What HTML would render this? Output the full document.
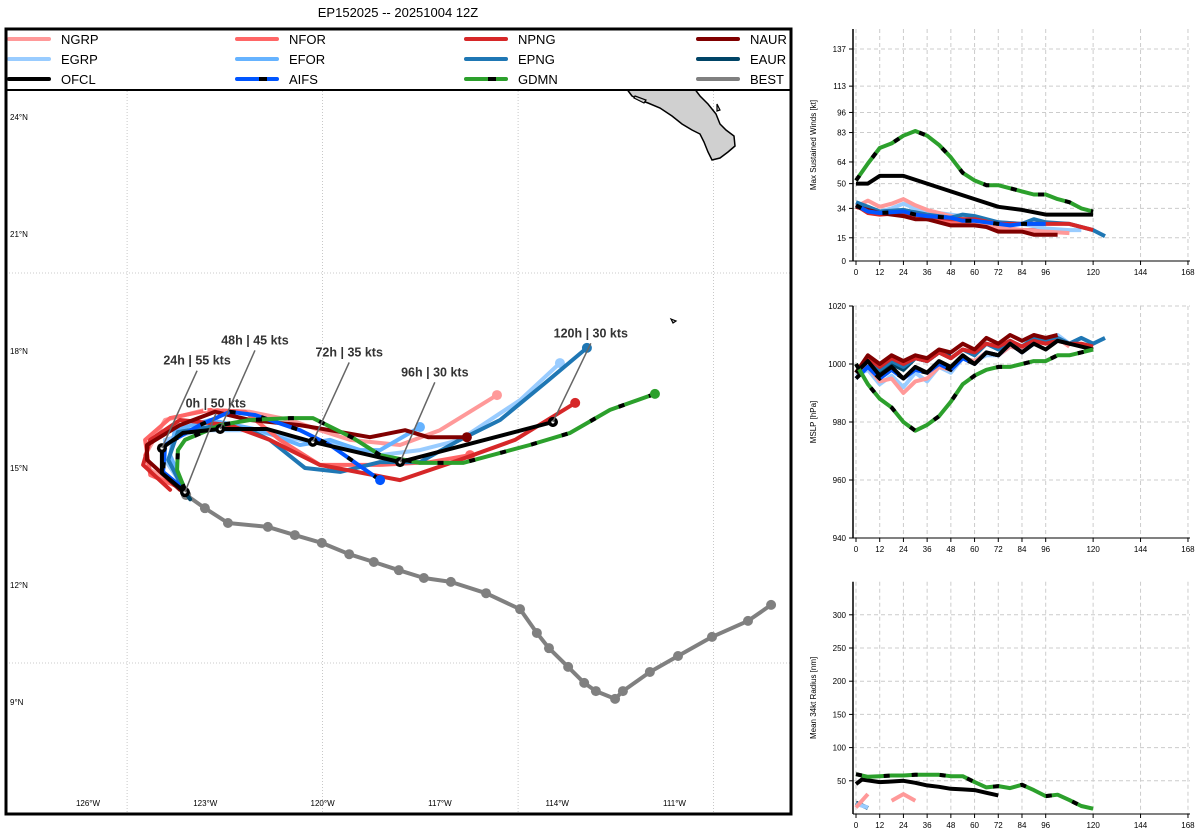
<!DOCTYPE html>
<html><head><meta charset="utf-8">
<style>
html,body{margin:0;padding:0;background:#fff;}
body{width:1200px;height:840px;overflow:hidden;font-family:"Liberation Sans","DejaVu Sans",sans-serif;}
svg{position:absolute;left:0;top:0;}
</style></head>
<body>
<svg id="chart" width="1200" height="840" viewBox="0 0 1200 840">
<text x="398" y="17" font-size="13" text-anchor="middle" fill="#000">EP152025 -- 20251004 12Z</text>
<defs><clipPath id="mapclip"><rect x="7" y="30" width="783" height="783"/></clipPath></defs>
<g id="map" clip-path="url(#mapclip)"></g>
<g id="maplabels"></g>
<g id="legend"></g>
<rect x="6" y="29" width="785" height="785" fill="none" stroke="#000" stroke-width="3"/>
<g id="p1"></g>
<g id="p2"></g>
<g id="p3"></g>
</svg>
<script>
// ---------- data ----------
const modelNames = ["NGRP","NFOR","NPNG","NAUR","EGRP","EFOR","EPNG","EAUR","OFCL","AIFS","GDMN","BEST"];
const modelColors = {NGRP:"#ff9999",NFOR:"#ff6666",NPNG:"#d62728",NAUR:"#800000",EGRP:"#99ccff",EFOR:"#66b3ff",EPNG:"#1f77b4",EAUR:"#004466",OFCL:"#000000",AIFS:"#0055ff",GDMN:"#2ca02c",BEST:"#808080"};
const dashedModels = ["AIFS","GDMN"];
// tracks: [lonW, latN]
const trackBEST = [[108.53,11.49],[109.12,11.08],[110.04,10.67],[110.91,10.18],[111.63,9.77],[112.32,9.28],[112.52,9.08],[113.01,9.28],[113.31,9.49],[113.72,9.90],[114.21,10.38],[114.52,10.77],[114.95,11.38],[115.82,11.79],[116.72,12.08],[117.41,12.18],[118.05,12.38],[118.69,12.59],[119.32,12.79],[120.02,13.08],[120.71,13.28],[121.40,13.49],[122.42,13.59],[123.01,13.97],[123.49,14.31]];
const trackOFCL = [[123.52,14.38],[124.11,14.87],[124.11,15.51],[123.57,15.90],[122.62,16.0],[121.42,16.0],[120.25,15.67],[118.02,15.15],[114.11,16.18]];
const trackOFCLmarks = [[123.52,14.38],[124.11,15.51],[122.62,16.0],[120.25,15.67],[118.02,15.15],[114.11,16.18]];
const trackNGRP = [[123.52,14.44],[124.41,14.95],[124.54,15.33],[124.03,16.23],[123.01,16.49],[121.86,16.44],[120.83,16.23],[120.07,15.97],[119.30,15.72],[118.02,15.59],[117.0,15.97],[115.54,16.87]];
const trackNFOR = [[123.52,14.44],[124.41,14.82],[124.54,15.72],[123.90,16.28],[122.88,16.49],[121.98,16.44],[121.09,15.72],[120.07,15.08],[118.53,15.08],[117.25,15.15],[116.23,15.33]];
const trackNPNG = [[123.90,14.44],[124.59,15.08],[124.41,15.72],[123.65,16.23],[122.37,16.10],[121.35,15.72],[120.07,15.08],[118.02,14.69],[116.49,15.21],[115.08,15.72],[113.54,16.67]];
const trackNAUR = [[123.65,14.44],[124.49,15.21],[124.49,15.59],[123.65,16.10],[122.75,16.44],[121.86,16.23],[120.58,16.10],[119.81,15.97],[118.79,15.79],[117.89,15.97],[117.30,15.79],[116.31,15.79]];
const trackEGRP = [[123.52,14.44],[124.03,15.21],[124.03,15.72],[123.14,15.97],[121.86,15.97],[120.58,15.72],[119.55,15.59],[118.53,15.33],[117.51,15.46],[116.49,15.72],[114.95,16.74],[113.93,17.69]];
const trackEFOR = [[123.52,14.44],[123.90,15.33],[123.78,15.97],[122.88,16.23],[121.60,15.97],[120.58,15.59],[119.81,15.72],[119.04,15.46],[118.53,15.46],[117.51,16.05]];
const trackEPNG = [[123.52,14.38],[123.95,15.21],[123.70,15.92],[122.62,16.10],[121.86,15.97],[121.35,15.72],[120.45,15.0],[119.55,14.90],[118.53,15.15],[117.51,15.15],[116.49,15.72],[115.46,16.23],[114.31,17.18],[113.24,18.08]];
const trackEAUR = [[123.52,14.38],[123.39,14.20]];
const trackAIFS = [[123.52,14.44],[124.08,14.90],[124.03,15.59],[123.14,16.10],[122.37,16.44],[121.73,16.36],[120.58,15.97],[119.81,15.59],[118.53,14.69]];
const trackGDMN = [[123.52,14.44],[123.72,14.95],[123.70,15.46],[123.52,15.72],[122.62,16.10],[121.86,16.23],[120.83,16.28],[120.25,16.28],[119.22,15.77],[118.53,15.33],[117.51,15.13],[116.41,15.13],[114.70,15.59],[113.67,15.90],[112.65,16.49],[111.50,16.90]];
const fcstLabels = ["0h | 50 kts","24h | 55 kts","48h | 45 kts","72h | 35 kts","96h | 30 kts","120h | 30 kts"];
const fcstLabelPos = [[122.73,16.55],[123.21,17.65],[121.73,18.17],[119.32,17.86],[117.13,17.35],[113.14,18.35]];
const fcstLabelTarget = [[123.52,14.38],[124.11,15.51],[122.62,16.0],[120.25,15.67],[118.02,15.15],[114.11,16.18]];
const lonTicks = [126,123,120,117,114,111];
const latTicks = [24,21,18,15,12,9];
const lonGrid = [125,120,115,110];
const latGrid = [20,10];

const windHours = {
 GDMN:[0,6,12,18,24,30,36,42,48,54,60,66,72,78,84,90,96,102,108,114,120],
 OFCL:[0,6,12,18,24,36,48,60,72,84,96,108,120],
 NGRP:[0,6,12,18,24,30,36,48,60,72,84,96,108],
 EGRP:[0,6,12,18,24,30,36,48,60,72,84,96,108,114],
 EPNG:[0,6,12,24,36,48,54,60,72,84,90,96,108,120,126],
 AIFS:[0,6,12,24,30,36,48,54,60,72,78,84,96],
 NPNG:[0,6,12,24,36,48,54,60,72,84,96,108,120],
 NAUR:[0,6,12,24,30,36,48,60,66,72,84,90,96,102],
 NFOR:[0,12,24,36,48,60,72,84,96,102],
 EAUR:[0,6,12]
};
const windVals = {
 GDMN:[52,63,73,76,81,84,81,75,67,57,52,49,49,47,45,43,43,40,38,34,32],
 OFCL:[50,50,55,55,55,50,45,40,35,33,30,30,30],
 NGRP:[35,39,35,37,40,36,33,29,25,22,20,19,18],
 EGRP:[37,35,32,34,37,34,32,30,28,25,24,21,20,20],
 EPNG:[38,35,32,33,30,28,30,29,25,24,27,25,24,20,16],
 AIFS:[36,32,31,32,30,29,28,26,26,24,23,24,24],
 NPNG:[36,31,30,31,29,27,27,27,24,24,24,24,20],
 NAUR:[35,33,31,29,27,27,23,23,22,19,19,17,17,17],
 NFOR:[35,31,30,28,25,24,21,20,20,19],
 EAUR:[37,34,32]
};
const mslpHours = {
 GDMN:[0,6,12,18,24,30,36,42,48,54,60,66,72,78,84,90,96,102,108,114,120],
 OFCL:[0,6,12,18,24,30,36,42,48,54,60,66,72,78,84,90,96,102,108,114,120],
 AIFS:[0,6,12,18,24,30,36,42,48,54,60,66,72,78,84,90],
 NGRP:[0,6,12,18,24,30,36,42,48,54,60,66,72,78,84,90,96,102,108],
 EGRP:[0,6,12,18,24,30,36,42,48,54,60,66,72,78,84,90,96,102,108,114],
 EPNG:[0,6,12,18,24,30,36,42,48,54,60,66,72,78,84,90,96,102,108,114,120,126],
 NPNG:[0,6,12,18,24,30,36,42,48,54,60,66,72,78,84,90,96,102,108,114,120],
 NAUR:[0,6,12,18,24,30,36,42,48,54,60,66,72,78,84,90,96,102],
 EAUR:[0,6,12,18,24,30,36,42,48]
};
const mslpVals = {
 GDMN:[1000,993,988,985,980,977,979,982,987,993,996,998,999,999,1000,1001,1001,1003,1003,1004,1005],
 OFCL:[997,1001,996,999,995,999,997,1001,999,1003,1000,1004,1003,1007,1004,1007,1005,1008,1007,1006,1005],
 AIFS:[995,999,995,998,995,998,997,1000,998,1002,1000,1004,1003,1007,1004,1007],
 NGRP:[997,999,994,995,990,994,995,999,998,1002,1001,1004,1003,1006,1005,1008,1007,1009,1006],
 EGRP:[996,998,993,996,992,997,994,999,997,1002,1001,1003,1003,1006,1005,1008,1007,1010,1007,1009],
 EPNG:[997,1002,998,1001,999,1002,1001,1004,1002,1005,1003,1007,1005,1008,1006,1009,1008,1009,1007,1009,1007,1009],
 NPNG:[997,1002,999,1002,1000,1002,1001,1004,1002,1005,1004,1007,1006,1008,1006,1008,1007,1008,1007,1007,1006],
 NAUR:[997,1003,1000,1003,1001,1003,1002,1005,1004,1007,1005,1009,1007,1010,1008,1010,1009,1010],
 EAUR:[997,1001,997,1000,998,1002,1001,1004,1003]
};
const radHours = {
 GDMN:[0,6,12,18,24,30,36,42,48,54,60,66,72,78,84,90,96,102,108,114,120],
 OFCL:[0,3,12,18,24,30,36,42,48,54,60,66,72],
 EGRP:[0,6],
 EAUR:[0,6],
 NGRP:[0,6,null,18,24,30]
};
const radVals = {
 GDMN:[60,56,57,58,58,59,59,59,57,57,48,40,42,39,44,36,27,29,21,12,8],
 OFCL:[45,52,48,49,50,47,43,41,38,37,36,32,28],
 EGRP:[15,10],
 EAUR:[17,9],
 NGRP:[10,30,null,20,30,20]
};
const hourTicks = [0,12,24,36,48,60,72,84,96,120,144,168];
const windTicks = [0,15,34,50,64,83,96,113,137];
const mslpTicks = [940,960,980,1000,1020];
const radTicks = [50,100,150,200,250,300];

const tracks = {NGRP:trackNGRP,NFOR:trackNFOR,NPNG:trackNPNG,NAUR:trackNAUR,EGRP:trackEGRP,EFOR:trackEFOR,EPNG:trackEPNG,EAUR:trackEAUR,AIFS:trackAIFS,GDMN:trackGDMN};

// ---------- helpers ----------
const NS="http://www.w3.org/2000/svg";
function mk(tag, parent, attrs){const e=document.createElementNS(NS,tag);for(const k in attrs)e.setAttribute(k,attrs[k]);parent.appendChild(e);return e;}
const mx = lon => 88 + (126 - lon) * 39.1;
const my = lat => 117 + (24 - lat) * 39;

// ---------- map ----------
const map=document.getElementById('map');
const ml=document.getElementById('maplabels');
for(const g of lonGrid){const l=mk('line',map,{x1:mx(g),x2:mx(g),y1:28,y2:814,stroke:'#bbb','stroke-width':0.8,'stroke-dasharray':'1 2'});

}
for(const g of latGrid){const l=mk('line',map,{x1:6,x2:791,y1:my(g),y2:my(g),stroke:'#bbb','stroke-width':0.8,'stroke-dasharray':'1 2'});

}
const land=mk('path',map,{d:'M626,88 L632,96 L640,100 L648,103 L660,108 L672,116 L682,124 L692,130 L700,134 L704,142 L708,152 L712,160 L720,158 L728,152 L735,146 L734,136 L726,130 L720,124 L716,114 L708,104 L700,96 L694,88 Z',fill:'#d0d0d0',stroke:'#000','stroke-width':1.5});


const isl=mk('path',map,{d:'M635,96 L646,100 L644,103 L634,98 Z M717,104 L720,110 L717,111 Z M671,319 L676,321 L673,323 Z',fill:'#d0d0d0',stroke:'#000','stroke-width':1.2});



for(let i=0;i<lonTicks.length;i++){const t=mk('text',ml,{x:mx(lonTicks[i]),y:806,'font-size':8,'text-anchor':'middle',fill:'#000'});t.textContent=lonTicks[i]+'°W';

}
for(let i=0;i<latTicks.length;i++){const t=mk('text',ml,{x:10,y:my(latTicks[i])+3,'font-size':8,fill:'#000'});t.textContent=latTicks[i]+'°N';

}

function pts(tr){return tr.map(p=>mx(p[0]).toFixed(1)+','+my(p[1]).toFixed(1)).join(' ');}
function drawTrack(name,tr,w){
  const g=mk('g',map,{});
  
  
  mk('polyline',g,{points:pts(tr),fill:'none',stroke:modelColors[name],'stroke-width':w,'stroke-linejoin':'round','stroke-linecap':'round'});
  if(dashedModels.includes(name)) mk('polyline',g,{points:pts(tr),fill:'none',stroke:'#000','stroke-width':w,'stroke-dasharray':'6 26'});
  const e=tr[tr.length-1];
  if(name!=='EAUR') mk('circle',g,{cx:mx(e[0]),cy:my(e[1]),r:5,fill:modelColors[name]});
  return g;
}
const gb=drawTrack('BEST',trackBEST,4);
for(const p of trackBEST){const c=mk('circle',gb,{cx:mx(p[0]),cy:my(p[1]),r:5,fill:'#808080'});

}
for(const n of ["NGRP","EGRP","EFOR","NFOR","EPNG","NPNG","NAUR","EAUR","AIFS","GDMN"]){
  drawTrack(n,tracks[n],4);
}
drawTrack('OFCL',trackOFCL,4);
for(const p of trackOFCLmarks){const c=mk('circle',map,{cx:mx(p[0]),cy:my(p[1]),r:5,fill:'#000'});


mk('circle',map,{cx:mx(p[0]),cy:my(p[1]),r:1.5,fill:'#fff'});}
for(let i=0;i<fcstLabels.length;i++){
  const lp=fcstLabelPos[i], tp=fcstLabelTarget[i];
  const ln=mk('line',map,{x1:mx(lp[0]),y1:my(lp[1])+6,x2:mx(tp[0]),y2:my(tp[1]),stroke:'#666','stroke-width':1.5});
  
  
  const t=mk('text',map,{x:mx(lp[0]),y:my(lp[1]),'font-size':12.5,'font-weight':'bold','text-anchor':'middle',fill:'#333',stroke:'#fff','stroke-width':2.5,'paint-order':'stroke'});
  t.textContent=fcstLabels[i];
  
  
}

// ---------- legend ----------
const lg=document.getElementById('legend');
mk('rect',lg,{x:6,y:29,width:785,height:61,fill:'#fff',stroke:'#000','stroke-width':2});
const legendOrder=[["NGRP","NFOR","NPNG","NAUR"],["EGRP","EFOR","EPNG","EAUR"],["OFCL","AIFS","GDMN","BEST"]];
const colX=[9,237,466,698];
for(let r=0;r<3;r++)for(let c=0;c<4;c++){
  const n=legendOrder[r][c];const y=39+r*20;
  const g=mk('g',lg,{});
  
  
  mk('line',g,{x1:colX[c],x2:colX[c]+40,y1:y,y2:y,stroke:modelColors[n],'stroke-width':4,'stroke-linecap':'round'});
  if(dashedModels.includes(n)) mk('line',g,{x1:colX[c]+22,x2:colX[c]+30,y1:y,y2:y,stroke:'#000','stroke-width':4});
  const t=mk('text',g,{x:colX[c]+52,y:y+5,'font-size':13,fill:'#000'});t.textContent=n;
}

// ---------- intensity panels ----------
const hx = h => 856 + h * 1.976;
function panel(id,top,bottom,ymin,ymax,ticks,label,hours,vals,order,extra){
  const g=document.getElementById(id);
  const ys=v=>bottom-(v-ymin)/(ymax-ymin)*(bottom-top);
  const gtop = top-extra;
  for(const h of hourTicks){const l=mk('line',g,{x1:hx(h),x2:hx(h),y1:gtop,y2:bottom,stroke:'#ccc','stroke-dasharray':'4 3','stroke-width':1});
    
    
    mk('line',g,{x1:hx(h),x2:hx(h),y1:bottom,y2:bottom+4,stroke:'#000'});
    const t=mk('text',g,{x:hx(h),y:bottom+14,'font-size':8,'text-anchor':'middle'});t.textContent=h;
    
    }
  for(const v of ticks){const yy=ys(v);
    const l=mk('line',g,{x1:853,x2:1190,y1:yy,y2:yy,stroke:'#ccc','stroke-dasharray':'4 3','stroke-width':1});
    
    
    mk('line',g,{x1:849,x2:853,y1:yy,y2:yy,stroke:'#000'});
    const t=mk('text',g,{x:846,y:yy+3,'font-size':8,'text-anchor':'end'});t.textContent=v;
    
    }
  mk('line',g,{x1:853,x2:853,y1:gtop,y2:bottom,stroke:'#000','stroke-width':1.5});
  mk('line',g,{x1:853,x2:1190,y1:bottom,y2:bottom,stroke:'#000','stroke-width':1});
  const yl=mk('text',g,{x:0,y:0,'font-size':8,'text-anchor':'middle',transform:`translate(816,${(gtop+bottom)/2}) rotate(-90)`});
  yl.textContent=label;
  
  
  for(const n of order){
    if(!hours[n])continue;
    let segs=[[]];
    hours[n].forEach((h,i)=>{if(h===null||vals[n][i]===null){segs.push([]);}else segs[segs.length-1].push(hx(h).toFixed(1)+','+ys(vals[n][i]).toFixed(1));});
    for(const s of segs){if(s.length<2)continue;
      const pl=mk('polyline',g,{points:s.join(' '),fill:'none',stroke:modelColors[n],'stroke-width':4,'stroke-linejoin':'round'});
      
      
      if(dashedModels.includes(n)) mk('polyline',g,{points:s.join(' '),fill:'none',stroke:'#000','stroke-width':4,'stroke-dasharray':'6 22'});
    }
  }
}
const ord=["EAUR","NFOR","EFOR","EGRP","NGRP","EPNG","NPNG","NAUR","AIFS","OFCL","GDMN"];
panel('p1',49,261,0,137,windTicks,'Max Sustained Winds [kt]',windHours,windVals,ord,20);
panel('p2',306,538,940,1020,mslpTicks,'MSLP [hPa]',mslpHours,mslpVals,ord,0);
panel('p3',614.8,814,0,300,radTicks,'Mean 34kt Radius [nm]',radHours,radVals,ord,33);
</script>
</body></html>
